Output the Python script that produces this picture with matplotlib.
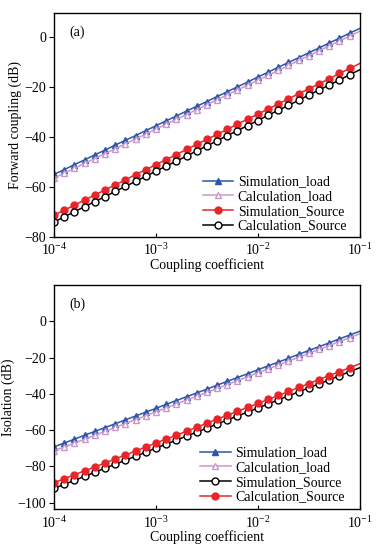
import matplotlib
matplotlib.use("Agg")
import matplotlib.pyplot as plt
import numpy as np

plt.rcParams['font.family'] = ['Liberation Serif', 'DejaVu Serif']
plt.rcParams['font.size'] = 10
plt.rcParams['mathtext.fontset'] = 'stix'

# coupling coefficient grid, 10 points per decade
k = np.logspace(-4, -1, 31)

# (a) forward coupling, dB
fwd_sim_load = [-55.0, -53.1, -51.1, -49.2, -47.2, -45.3, -43.3, -41.4, -39.5, -37.5,
                -35.6, -33.6, -31.7, -29.7, -27.8, -25.9, -23.9, -22.0, -20.0, -18.1,
                -16.1, -14.2, -12.2, -10.3, -8.4, -6.4, -4.5, -2.5, -0.6, 1.4, 3.3]
fwd_calc_load = [-56.5, -54.5, -52.6, -50.6, -48.7, -46.7, -44.8, -42.8, -40.9, -38.9,
                 -36.9, -35.0, -33.0, -31.1, -29.1, -27.2, -25.2, -23.2, -21.3, -19.3,
                 -17.4, -15.4, -13.5, -11.5, -9.5, -7.6, -5.6, -3.7, -1.7, 0.2, 2.2]
fwd_sim_src = [-71.3, -69.3, -67.3, -65.2, -63.2, -61.2, -59.2, -57.2, -55.1, -53.1,
               -51.1, -49.1, -47.1, -45.0, -43.0, -41.0, -39.0, -37.0, -34.9, -32.9,
               -30.9, -28.9, -26.9, -24.8, -22.8, -20.8, -18.8, -16.8, -14.7, -12.7, -10.7]
fwd_calc_src = [-74.0, -72.0, -69.9, -67.9, -65.9, -63.9, -61.8, -59.8, -57.8, -55.8,
                -53.7, -51.7, -49.7, -47.7, -45.6, -43.6, -41.6, -39.5, -37.5, -35.5,
                -33.5, -31.4, -29.4, -27.4, -25.4, -23.3, -21.3, -19.3, -17.3, -15.2, -13.2]

# (b) isolation, dB
iso_sim_load = [-69.2, -67.1, -65.0, -62.8, -60.7, -58.6, -56.5, -54.3, -52.2, -50.1,
                -48.0, -45.8, -43.7, -41.6, -39.5, -37.4, -35.2, -33.1, -31.0, -28.9,
                -26.7, -24.6, -22.5, -20.4, -18.2, -16.1, -14.0, -11.9, -9.7, -7.6, -5.5]
iso_calc_load = [-71.4, -69.3, -67.1, -65.0, -62.8, -60.7, -58.5, -56.4, -54.2, -52.1,
                 -49.9, -47.8, -45.6, -43.5, -41.3, -39.2, -37.0, -34.9, -32.7, -30.6,
                 -28.4, -26.3, -24.1, -22.0, -19.8, -17.7, -15.5, -13.4, -11.2, -9.1, -6.9]
iso_sim_src = [-92.1, -89.9, -87.7, -85.5, -83.2, -81.0, -78.8, -76.6, -74.4, -72.2,
               -69.9, -67.7, -65.5, -63.3, -61.1, -58.9, -56.6, -54.4, -52.2, -50.0,
               -47.8, -45.6, -43.3, -41.1, -38.9, -36.7, -34.5, -32.3, -30.0, -27.8, -25.6]
iso_calc_src = [-89.0, -86.8, -84.6, -82.4, -80.3, -78.1, -75.9, -73.7, -71.5, -69.3,
                -67.1, -64.9, -62.8, -60.6, -58.4, -56.2, -54.0, -51.8, -49.6, -47.4,
                -45.3, -43.1, -40.9, -38.7, -36.5, -34.3, -32.1, -29.9, -27.8, -25.6, -23.4]

blue = '#2d55a8'
pink = '#c898cc'
red = '#e8262a'

fig = plt.figure(figsize=(3.8, 5.48), dpi=100)
ax1 = fig.add_axes([0.142, 0.5675, 0.805, 0.409])
ax2 = fig.add_axes([0.142, 0.071, 0.805, 0.409])

mk = slice(0, 30)
kw = dict(lw=1.1, ms=5, markevery=mk, clip_on=True)

ax1.plot(k, fwd_sim_load, '-^', color=blue, mfc=blue, mec=blue, label='Simulation_load', **kw)
ax1.plot(k, fwd_calc_load, '-^', color=pink, mfc='white', mec=pink, label='Calculation_load', **kw)
ax1.plot(k, fwd_sim_src, '-o', color=red, mfc=red, mec=red, label='Simulation_Source', **kw)
ax1.plot(k, fwd_calc_src, '-o', color='black', mfc='white', mec='black', label='Calculation_Source', **kw)

ax2.plot(k, iso_sim_load, '-^', color=blue, mfc=blue, mec=blue, label='Simulation_load', **kw)
ax2.plot(k, iso_calc_load, '-^', color=pink, mfc='white', mec=pink, label='Calculation_load', **kw)
ax2.plot(k, iso_sim_src, '-o', color='black', mfc='white', mec='black', label='Simulation_Source', **kw)
ax2.plot(k, iso_calc_src, '-o', color=red, mfc=red, mec=red, label='Calculation_Source', **kw)

for ax, lo, hi, ticks, lab, tag, leg_xy in [
        (ax1, -80, 9.5, [-80, -60, -40, -20, 0], 'Forward coupling (dB)', '(a)', (0.487, 0.02)),
        (ax2, -103.5, 20, [-100, -80, -60, -40, -20, 0], 'Isolation (dB)', '(b)', (0.478, 0.025))]:
    ax.set_xscale('log')
    ax.set_xlim(1e-4, 1e-1)
    ax.set_ylim(lo, hi)
    ax.set_yticks(ticks)
    ax.set_xticks([1e-4, 1e-3, 1e-2, 1e-1])
    ax.xaxis.set_minor_locator(matplotlib.ticker.NullLocator())
    ax.tick_params(axis='x', direction='in', length=3, width=0.8, pad=4)
    ax.tick_params(axis='y', direction='out', length=3.5, width=0.8, pad=2)
    ax.set_xlabel('Coupling coefficient', labelpad=0)
    ax.set_ylabel(lab, labelpad=2)
    for s in ax.spines.values():
        s.set_linewidth(1.0)
    ax.text(0.05, 0.915, tag, transform=ax.transAxes, ha='left', va='center')
    ax.legend(loc='lower left', bbox_to_anchor=leg_xy, frameon=False,
              handlelength=2.2, handletextpad=0.3, labelspacing=0.12,
              borderpad=0, borderaxespad=0, fontsize=10)

fig.savefig('out.png', dpi=100)
